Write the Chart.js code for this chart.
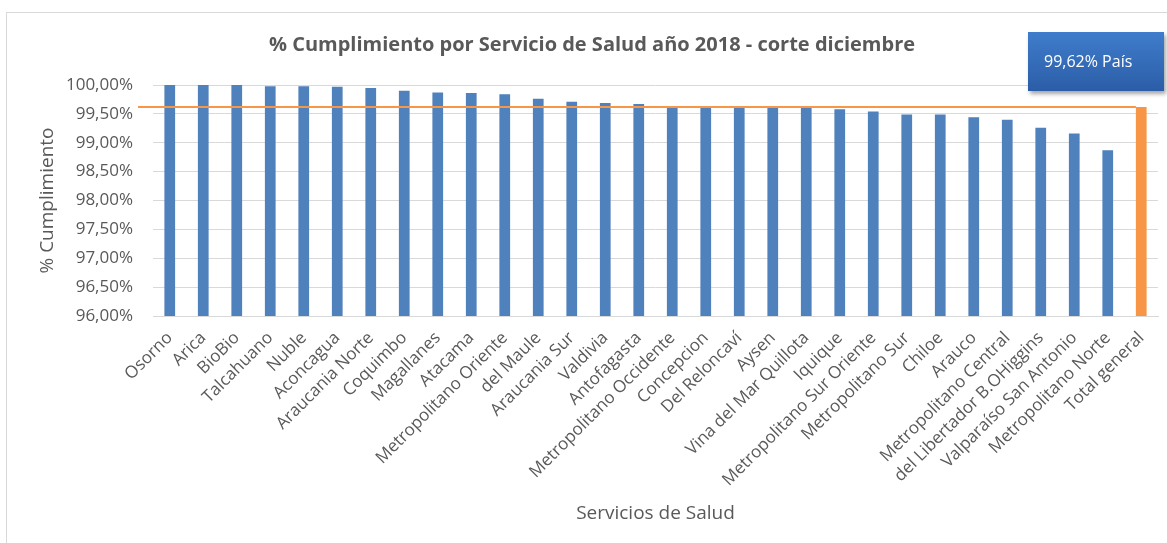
<!DOCTYPE html>
<html>
<head>
<meta charset="utf-8">
<script src="https://cdn.jsdelivr.net/npm/chart.js@4.4.1/dist/chart.umd.min.js"></script>
<style>
    html, body { margin: 0; padding: 0; background: #fff; }
    #wrap { position: relative; width: 1167px; height: 543px; overflow: hidden; }
    #frame { position: absolute; left: 6px; top: 12px; width: 1200px; height: 600px; border: 1px solid #d9d9d9; }
    #cv { position: absolute; left: 0; top: 0; }
    #pais {
        position: absolute; left: 1028px; top: 32px; width: 136px; height: 59px;
        box-sizing: border-box; padding-left: 16px;
        background: linear-gradient(#3f7dcc, #2b5da7);
        box-shadow: 2px 3px 4px rgba(0, 0, 0, 0.35);
        color: #fff; font: 16px 'Open Sans'; line-height: 59px; white-space: nowrap;
    }
</style>
</head>
<body>
<div id="wrap">
    <div id="frame"></div>
    <canvas id="cv" width="1167" height="543"></canvas>
    <div id="pais"></div>
</div>
<script>
// Servicios de Salud (eje X)
var servicios = ['Osorno', 'Arica', 'BioBio', 'Talcahuano', 'Nuble', 'Aconcagua', 'Araucania Norte',
    'Coquimbo', 'Magallanes', 'Atacama', 'Metropolitano Oriente', 'del Maule', 'Araucania Sur',
    'Valdivia', 'Antofagasta', 'Metropolitano Occidente', 'Concepcion', 'Del Reloncaví', 'Aysen',
    'Vina del Mar Quillota', 'Iquique', 'Metropolitano Sur Oriente', 'Metropolitano Sur', 'Chiloe',
    'Arauco', 'Metropolitano Central', 'del Libertador B.OHiggins', 'Valparaíso San Antonio',
    'Metropolitano Norte', 'Total general'];

// % cumplimiento (le\u00EDdo del gr\u00E1fico)
var cumplimiento = [100.00, 100.00, 100.00, 99.98, 99.98, 99.97, 99.95,
    99.90, 99.87, 99.86, 99.84, 99.76, 99.71,
    99.69, 99.67, 99.63, 99.63, 99.63, 99.63,
    99.60, 99.58, 99.54, 99.49, 99.49,
    99.44, 99.40, 99.26, 99.16,
    98.87, 99.62];

// Marcas del eje Y
var ticksY = [96.0, 96.5, 97.0, 97.5, 98.0, 98.5, 99.0, 99.5, 100.0];

var azul = '#4f81bd';
var naranja = '#f79646';
var gris = '#595959';
var ultimo = servicios.length - 1;
var totalPais = cumplimiento[ultimo];

function pct(v) { return v.toFixed(2).replace('.', ',') + '%'; }

document.getElementById('pais').textContent = pct(totalPais) + ' Pa\u00EDs';

// l\u00EDnea horizontal del total pa\u00EDs hasta la barra "Total general"
var lineaPais = {
    id: 'lineaPais',
    afterDatasetsDraw: function (chart) {
        var y = chart.scales.y.getPixelForValue(totalPais);
        var barra = chart.getDatasetMeta(0).data[ultimo];
        var ctx = chart.ctx;
        ctx.save();
        ctx.strokeStyle = naranja;
        ctx.lineWidth = 2;
        ctx.beginPath();
        ctx.moveTo(chart.chartArea.left - 15, y);
        ctx.lineTo(barra.x - barra.width / 2, y);
        ctx.stroke();
        ctx.restore();
    }
};

var ctx = document.getElementById('cv').getContext('2d');
var chart = new Chart(ctx, {
    type: 'bar',
    data: {
        labels: servicios,
        datasets: [{
            data: cumplimiento,
            backgroundColor: servicios.map(function (s, i) { return i === ultimo ? naranja : azul; }),
            barPercentage: 0.64,
            categoryPercentage: 0.5
        }]
    },
    options: {
        responsive: false, animation: false, devicePixelRatio: 1,
        layout: { padding: { left: 26, right: 9, top: 0, bottom: 0 } },
        plugins: {
            legend: { display: false },
            tooltip: { enabled: false },
            title: {
                display: true,
                text: '% Cumplimiento por Servicio de Salud a\u00F1o 2018 - corte diciembre',
                color: gris,
                font: { family: 'Open Sans', size: 20, weight: 'bold' },
                padding: { top: 33, bottom: 28 }
            }
        },
        scales: {
            x: {
                grid: { display: false },
                border: { color: '#d9d9d9' },
                ticks: {
                    autoSkip: false, minRotation: 45, maxRotation: 45, padding: 4,
                    color: gris, font: { family: 'Open Sans', size: 17 }
                },
                title: {
                    display: true, text: 'Servicios de Salud', color: gris,
                    font: { family: 'Open Sans', size: 19 }, padding: { top: 0, bottom: 18 }
                },
                afterFit: function (scale) { scale.height = 227; }
            },
            y: {
                min: 96, max: 100,
                afterBuildTicks: function (scale) {
                    scale.ticks = ticksY.map(function (v) { return { value: v }; });
                },
                grid: { color: '#d9d9d9', drawTicks: false },
                border: { display: false },
                ticks: {
                    padding: 20, color: gris, font: { family: 'Open Sans', size: 17 },
                    callback: function (v) { return pct(v); }
                },
                title: {
                    display: true, text: '% Cumplimiento', color: gris,
                    font: { family: 'Open Sans', size: 19 }, padding: { top: 10, bottom: 0 }
                },
                afterFit: function (scale) { scale.width = 127; }
            }
        }
    },
    plugins: [lineaPais]
});
</script>
</body>
</html>
